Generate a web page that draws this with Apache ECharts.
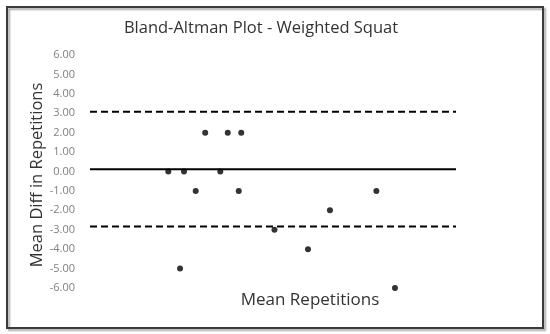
<!DOCTYPE html>
<html>
<head>
<meta charset="utf-8">
<script src="https://cdn.jsdelivr.net/npm/echarts@6/dist/echarts.min.js"></script>
<style>html,body{margin:0;padding:0;background:#fff}#c{width:550px;height:334px}</style>
</head>
<body>
<div id="c"></div>
<script>
// Data
var meanReps = [5.35, 6.42, 7.22, 7.87, 8.90, 9.41, 10.16, 10.33, 6.15, 12.60, 19.56, 16.39, 14.89, 20.83];
var meanDiff = [0, 0, -1, 2, 0, 2, -1, 2, -5, -3, -1, -2, -4, -6];
var lineXRange = [0, 25];
var meanBias = 0.12;
var upperLoA = 3.08;
var lowerLoA = -2.83;
var yTicks = [-6, -5, -4, -3, -2, -1, 0, 1, 2, 3, 4, 5, 6];

var points = meanReps.map(function (x, i) { return [x, meanDiff[i]]; });
function hline(v) { return [[lineXRange[0], v], [lineXRange[1], v]]; }

var chart = echarts.init(document.getElementById('c'));
chart.setOption({
  animation: false,
  grid: { left: 90, right: 94, top: 55, bottom: 46 },
  xAxis: {
    type: 'value', min: lineXRange[0], max: lineXRange[1],
    axisLine: { show: false }, axisTick: { show: false },
    axisLabel: { show: false }, splitLine: { show: false }
  },
  yAxis: {
    type: 'value', min: yTicks[0], max: yTicks[yTicks.length - 1], interval: 1,
    axisLine: { show: false }, axisTick: { show: false }, splitLine: { show: false },
    axisLabel: {
      margin: 15, color: '#808080', fontFamily: 'Open Sans', fontSize: 11,
      formatter: function (v) { return v.toFixed(2); }
    }
  },
  series: [
    { type: 'line', data: hline(upperLoA), symbol: 'none', lineStyle: { color: '#000', width: 2, type: [7, 4] } },
    { type: 'line', data: hline(meanBias), symbol: 'none', lineStyle: { color: '#000', width: 2 } },
    { type: 'line', data: hline(lowerLoA), symbol: 'none', lineStyle: { color: '#000', width: 2, type: [7, 4] } },
    { type: 'scatter', data: points, symbol: 'circle', symbolSize: 6, itemStyle: { color: '#000' }, z: 5 }
  ],
  graphic: [
    { type: 'rect', shape: { x: 7, y: 7, width: 536, height: 321 },
      style: { fill: null, stroke: '#3a3a3a', lineWidth: 2, shadowColor: 'rgba(0,0,0,0.35)', shadowOffsetX: 2, shadowOffsetY: 2, shadowBlur: 2 } },
    { type: 'text', x: 261, y: 28,
      style: { text: 'Bland-Altman Plot - Weighted Squat', fill: '#333', font: '16.5px "Open Sans"', textAlign: 'center', textVerticalAlign: 'middle' } },
    { type: 'text', x: 310, y: 300,
      style: { text: 'Mean Repetitions', fill: '#333', font: '17px "Open Sans"', textAlign: 'center', textVerticalAlign: 'middle' } },
    { type: 'text', x: 37, y: 175, rotation: Math.PI / 2,
      style: { text: 'Mean Diff in Repetitions', fill: '#333', font: '16.5px "Open Sans"', textAlign: 'center', textVerticalAlign: 'middle' } }
  ]
});
</script>
</body>
</html>
